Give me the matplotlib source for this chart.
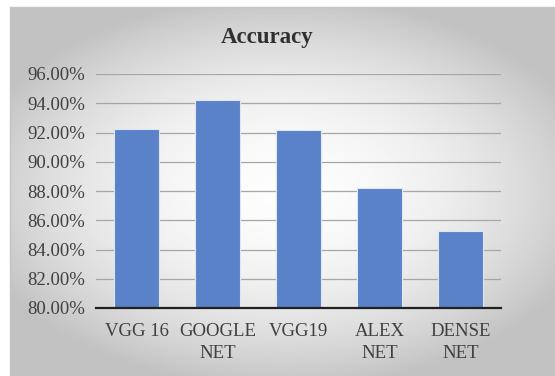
import numpy as np
import matplotlib.pyplot as plt
from matplotlib.ticker import FuncFormatter

models = ['VGG 16', 'GOOGLE\nNET', 'VGG19', 'ALEX\nNET', 'DENSE\nNET']
accuracy = [92.27, 94.2, 92.16, 88.23, 85.25]
yticks = [80, 82, 84, 86, 88, 90, 92, 94, 96]

plt.rcParams['font.family'] = ['Liberation Serif', 'DejaVu Serif']

fig = plt.figure(figsize=(5.55, 3.76), dpi=100)
fig.patch.set_facecolor('white')

# radial gray panel behind the chart
bg = fig.add_axes([10 / 555, 0, 545 / 555, 1 - 7 / 376])
yy, xx = np.mgrid[-1:1:300j, -1:1:400j]
r = np.sqrt((xx / 1.1) ** 2 + (yy / 1.0) ** 2)
shade = np.clip(0.99 - 0.2 * r ** 2, 0.76, 1.0)
bg.imshow(shade, cmap='gray', vmin=0, vmax=1, aspect='auto',
          extent=[0, 1, 0, 1], interpolation='bilinear')
bg.set_axis_off()
bg.plot([0, 1], [1, 1], color='#c4c4c4', lw=1.0, transform=bg.transAxes, clip_on=False)
bg.plot([0, 0], [0, 1], color='#c4c4c4', lw=1.0, transform=bg.transAxes, clip_on=False)

ax = fig.add_axes([96 / 555, 1 - 308 / 376, 405 / 555, (308 - 74) / 376])
ax.patch.set_alpha(0)
x = np.arange(len(models))
ax.bar(x, accuracy, width=0.56, bottom=0, color='#5a82c9',
       edgecolor='#dfe6f3', linewidth=0.8, zorder=3)
ax.set_xlim(-0.5, len(models) - 0.5)
ax.set_ylim(80, 96)
ax.set_yticks(yticks)
ax.yaxis.set_major_formatter(FuncFormatter(lambda v, p: f'{v:.2f}%'))
ax.set_xticks(x)
ax.set_xticklabels(models, linespacing=1.4)
ax.grid(axis='y', color='#a6a6a6', lw=0.9, zorder=0)
ax.tick_params(length=0, labelsize=13.5, colors='#404040', pad=8)
ax.tick_params(axis='x', pad=11)
for s in ['top', 'right', 'left']:
    ax.spines[s].set_visible(False)
ax.spines['bottom'].set_color('#202020')
ax.spines['bottom'].set_linewidth(1.6)
ax.spines['bottom'].set_zorder(4)

fig.text(267 / 555, 1 - 38 / 376, 'Accuracy', ha='center', va='center',
         fontsize=16.5, fontweight='bold', color='#303030')

fig.savefig('out.png', dpi=100)
